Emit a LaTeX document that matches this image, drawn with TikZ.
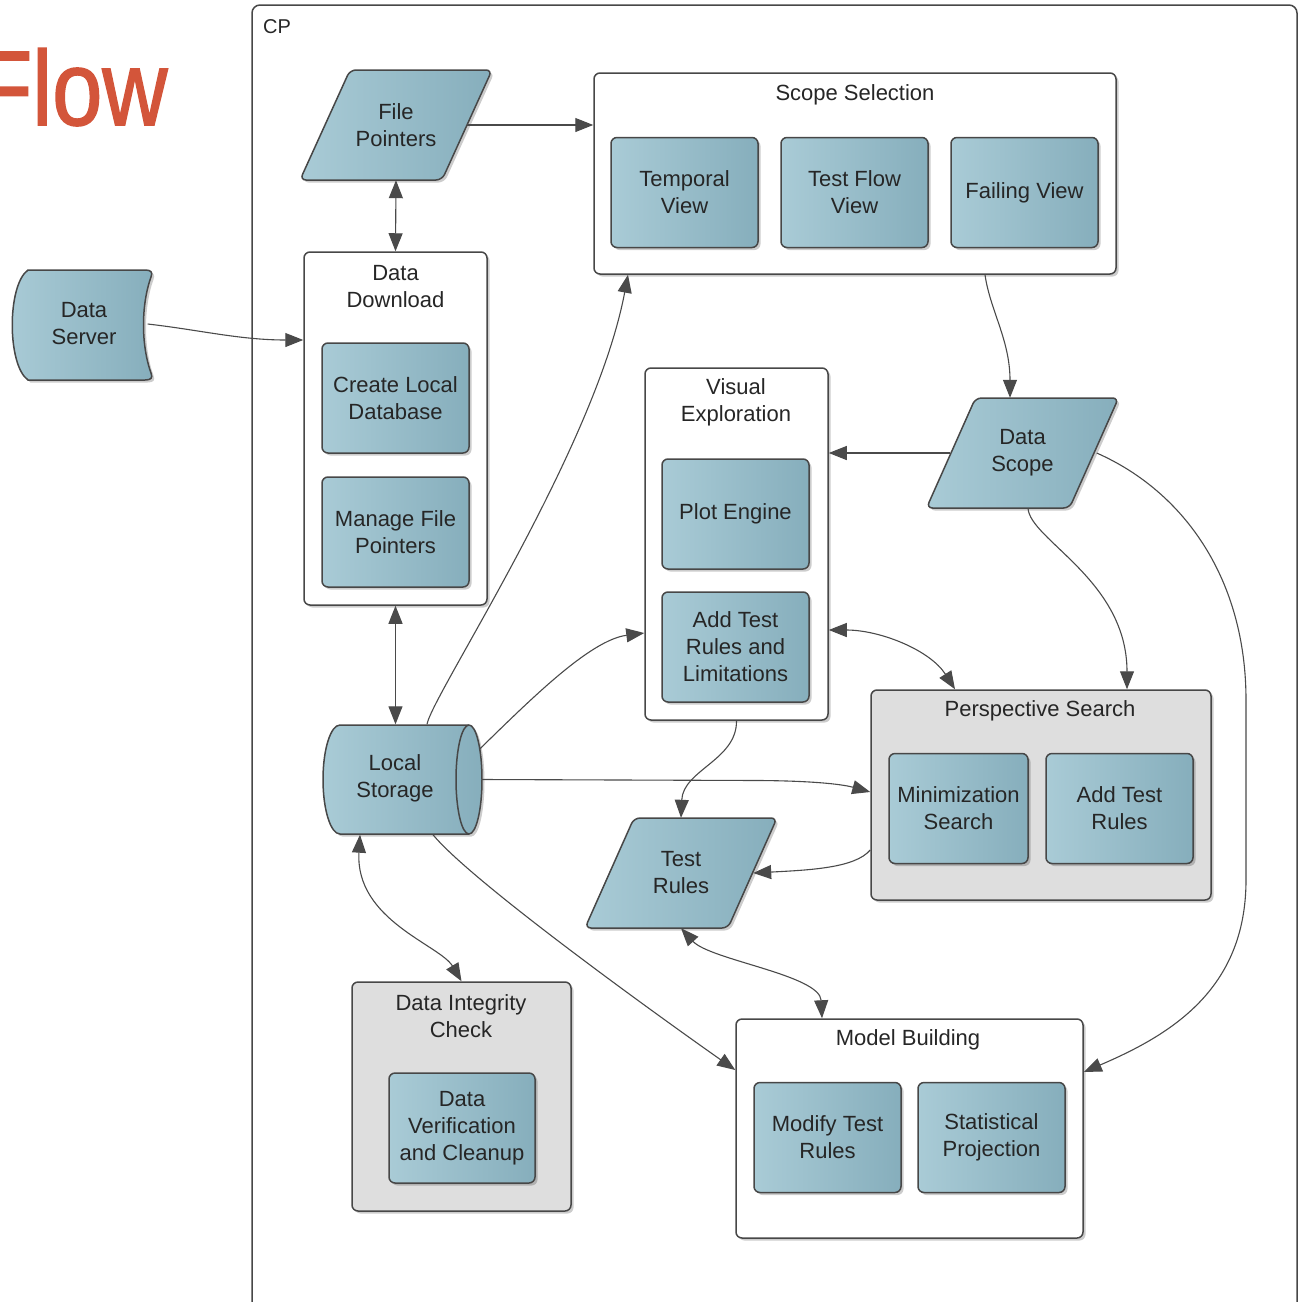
\documentclass[tikz,border=0pt]{standalone}
\usepackage{fontspec}
\setmainfont{Liberation Sans}
\usetikzlibrary{arrows.meta,shadows}
\definecolor{bord}{HTML}{474747}
\definecolor{lcol}{HTML}{4A4A4A}
\definecolor{blueL}{HTML}{A9CBD6}
\definecolor{blueD}{HTML}{86AEBC}
\definecolor{gfill}{HTML}{DEDEDE}
\definecolor{flowred}{HTML}{D3553A}
\definecolor{txt}{HTML}{262626}
\begin{document}
\begin{tikzpicture}[x=1pt,y=-1pt,
  every node/.style={text=txt},
  lbl/.style={font=\fontsize{22}{27}\selectfont, align=center, inner sep=0pt},
  shad/.style={drop shadow={shadow xshift=2.5pt,shadow yshift=-2.5pt,opacity=0.2,fill=black}},
  cont/.style={draw=bord, line width=1.5pt, rounded corners=6pt, fill=white, shad, inner sep=0pt},
  gcont/.style={cont, fill=gfill},
  bluefill/.style={draw=bord, line width=1.5pt, left color=blueL, right color=blueD, shad},
  bbox/.style={bluefill, rounded corners=6pt, lbl, minimum height=110pt, minimum width=147pt},
  parabox/.style={lbl, minimum width=192pt, minimum height=110pt},
  conn/.style={draw=lcol, line width=1.1pt, -{Triangle[length=18pt,width=14pt]}},
  conn2/.style={draw=lcol, line width=1.1pt, {Triangle[length=18pt,width=14pt]}-{Triangle[length=18pt,width=14pt]}},
]
\useasboundingbox (0,0) rectangle (1299,1302);

% title and frame
\node[anchor=base west, inner sep=0, text=flowred, font=\fontsize{106}{106}\selectfont\addfontfeature{FakeBold=1.6}] (flow) at (-23,125) {\scalebox{0.85}[1]{Flow}};
\draw[draw=bord, line width=1.5pt, rounded corners=8pt] (252,5) rectangle (1297,1340);
\node[anchor=base west, font=\fontsize{20}{24}\selectfont, inner sep=0] (cp) at (263,33) {CP};

% Data Download
\node[cont, minimum width=183pt, minimum height=353pt] (dd) at (395.5,428.5) {};
\node[lbl] (ddt) at (395.5,286.5) {Data\\Download};
\node[bbox] (cld) at (395.5,398) {Create Local\\Database};
\node[bbox] (mfp) at (395.5,532) {Manage File\\Pointers};

% Scope Selection
\node[cont, minimum width=522pt, minimum height=201pt] (ss) at (855,173.5) {};
\node[lbl] (sst) at (855,95) {Scope Selection};
\node[bbox] (tv) at (684.5,192.5) {Temporal\\View};
\node[bbox] (tfv) at (854.5,192.5) {Test Flow\\View};
\node[bbox] (fv) at (1024.5,192.5) {Failing View};

% Visual Exploration
\node[cont, minimum width=183pt, minimum height=352pt] (ve) at (736.5,544) {};
\node[lbl] (vet) at (736,402.5) {Visual\\Exploration};
\node[bbox] (pe) at (735.5,514) {Plot Engine};
\node[bbox] (atrl) at (735.5,647) {Add Test\\Rules and\\Limitations};

% Perspective Search
\node[gcont, minimum width=340pt, minimum height=210pt] (ps) at (1041,795) {};
\node[lbl] (pst) at (1040,711) {Perspective Search};
\node[bbox, minimum width=139pt] (ms) at (958.5,808.5) {Minimization\\Search};
\node[bbox] (atr) at (1119.5,808.5) {Add Test\\Rules};

% Data Integrity Check
\node[gcont, minimum width=219pt, minimum height=229pt] (dic) at (461.5,1096.5) {};
\node[lbl] (dict) at (461,1016) {Data Integrity\\Check};
\node[bbox, minimum width=146pt] (dvc) at (462,1128) {Data\\Verification\\and Cleanup};

% Model Building
\node[cont, minimum width=347pt, minimum height=219pt] (mb) at (909.5,1128.5) {};
\node[lbl] (mbt) at (908,1040) {Model Building};
\node[bbox] (mtr) at (827.5,1137.5) {Modify Test\\Rules};
\node[bbox] (sp) at (991.5,1137.5) {Statistical\\Projection};

% parallelograms
\path[bluefill, rounded corners=6pt] (350,70) -- (492,70) -- (442,180) -- (300,180) -- cycle;
\node[parabox] (fp) at (396,125) {File\\Pointers};
\path[bluefill, rounded corners=6pt] (975.5,398) -- (1118.5,398) -- (1069.5,508) -- (926.5,508) -- cycle;
\node[parabox] (dsc) at (1022.5,453) {Data\\Scope};
\path[bluefill, rounded corners=6pt] (634,818) -- (777,818) -- (728,928) -- (585,928) -- cycle;
\node[parabox] (tr) at (681,873) {Test\\Rules};

% Data Server
\path[bluefill]
  (28,270) -- (145,270) .. controls (151,270) and (153,272) .. (151,277)
  .. controls (141,305) and (141,345) .. (151,373)
  .. controls (153,378) and (151,380) .. (145,380)
  -- (28,380) .. controls (7,365) and (7,285) .. (28,270) -- cycle;
\node[lbl, minimum width=143pt, minimum height=110pt] (dsv) at (84,324) {Data\\Server};

% Local Storage
\path[bluefill]
  (340,725) -- (469,725) .. controls (476.2,725) and (482,749.4) .. (482,779.5)
  .. controls (482,809.6) and (476.2,834) .. (469,834) -- (340,834)
  .. controls (330.6,834) and (323,809.6) .. (323,779.5)
  .. controls (323,749.4) and (330.6,725) .. (340,725) -- cycle;
\draw[draw=bord, line width=1.5pt] (469,834) .. controls (461.8,834) and (456,809.6) .. (456,779.5)
  .. controls (456,749.4) and (461.8,725) .. (469,725);
\node[minimum width=159pt, minimum height=110pt, inner sep=0pt] (ls) at (402.5,779.5) {};
\node[lbl] (lst) at (395,778) {Local\\Storage};

% connectors
\draw[conn] ([xshift=-25pt]fp.east) -- (ss.west |- fp.east);
\draw[conn2] (fp.south) -- (dd.north);
\draw[conn] ([xshift=-8pt]dsv.east) .. controls (200,330) and (240,340) .. ([yshift=88.5pt]dd.west);
\draw[conn2] (dd.south) -- (dd.south |- ls.north);
\draw[conn] ([xshift=24.5pt]ls.north) .. controls (432,695) and (595,450) .. ([xshift=-227pt]ss.south);
\draw[conn] ([xshift=-3pt,yshift=30pt]ls.east) .. controls (530,700) and (590,640) .. ([yshift=-89pt]ve.west);
\draw[conn] (ls.east) -- (760,780.5) .. controls (820,781) and (845,785) .. ([yshift=3pt]ps.west);
\draw[conn] ([xshift=30.5pt]ls.south) .. controls (470,880) and (650,1010) .. ([yshift=58.5pt]mb.west);
\draw[conn2] ([xshift=-42.5pt]ls.south) .. controls (355,920) and (440,945) .. (dic.north);
\draw[conn] ([xshift=130pt]ss.south) .. controls (990,310) and (1010,340) .. ([xshift=-12.5pt]dsc.north);
\draw[conn] ([xshift=24pt]dsc.west) -- (ve.east |- dsc.west);
\draw[conn] ([xshift=5.5pt]dsc.south) .. controls (1030,540) and (1127,580) .. ([xshift=86pt]ps.north);
\draw[conn] ([xshift=-22pt]dsc.east) .. controls (1185,492) and (1246,580) .. (1246,700) -- (1246,880)
  .. controls (1246,990) and (1170,1035) .. ([yshift=56.5pt]mb.east);
\draw[conn2] ([yshift=-86pt]ve.east) .. controls (880,630) and (930,650) .. ([xshift=-86pt]ps.north);
\draw[conn] (ve.south) .. controls (737,760) and (683,770) .. (tr.north);
\draw[conn] ([yshift=-55pt]ps.west) .. controls (855,868) and (810,870) .. ([xshift=-24pt]tr.east);
\draw[conn2] (tr.south) .. controls (710,960) and (820,975) .. ([xshift=-87.5pt]mb.north);
\end{tikzpicture}
\end{document}
